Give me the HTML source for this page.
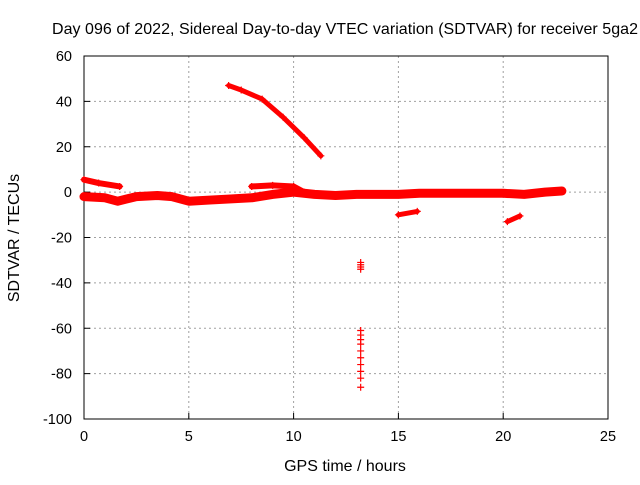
<!DOCTYPE html>
<html><head><meta charset="utf-8"><style>
body{margin:0;background:#fff}
svg text{font-family:"Liberation Sans",sans-serif;font-size:14.5px;fill:#000}
svg text.big{font-size:16px}
</style></head><body>
<svg width="640" height="480">
<g id="grid"></g>
<g id="axes"></g>
<g id="marks"></g>
<text class="big" x="345" y="34" text-anchor="middle" textLength="586">Day 096 of 2022, Sidereal Day-to-day VTEC variation (SDTVAR) for receiver 5ga2</text>
<text class="big" x="345" y="471" text-anchor="middle">GPS time / hours</text>
<text class="big" transform="translate(19,238) rotate(-90)" text-anchor="middle">SDTVAR / TECUs</text>
</svg>
<script>
const xTicks=[0,5,10,15,20,25];
const yTicks=[60,40,20,0,-20,-40,-60,-80,-100];
const mainT=[0,1,1.6,2.5,3.5,4.2,5,6,7,8,9,10,11,12,13,14,15,16,17,18,19,20,21,22,22.8];
const mainV=[-2,-2.5,-4,-2,-1.5,-2,-4,-3.5,-3,-2.5,-1,0,-1,-1.5,-1,-1,-1,-0.5,-0.5,-0.5,-0.5,-0.5,-1,0,0.5];
const upT=[0,0.7,1.7];const upV=[5.5,4,2.5];
const midT=[8,9,10,10.5];const midV=[2.5,3,2.5,0];
const highT=[6.9,7.5,8.5,9.5,10.5,11.3];const highV=[47,45,41,33,24,16];
const e1T=[15,15.9];const e1V=[-10,-8.5];
const e2T=[20.2,20.8];const e2V=[-13,-10.5];
const spikeT=[13.2,13.2,13.2,13.2,13.2,13.2,13.2,13.2,13.2,13.2,13.2,13.2,13.2,13.2];
const spikeV=[-31,-32,-33,-34,-61,-63,-65,-67,-70,-73,-76,-79,-82,-86];
const X0=84,X1=608,Y0=56,Y1=419;
const xs=t=>X0+(t-0)/25*(X1-X0);
const ys=v=>Y0+(60-v)/160*(Y1-Y0);
const NS="http://www.w3.org/2000/svg";
function mk(tag,attrs,parent){const e=document.createElementNS(NS,tag);for(const k in attrs)e.setAttribute(k,attrs[k]);parent.appendChild(e);return e;}
const grid=document.getElementById('grid'),axes=document.getElementById('axes'),marks=document.getElementById('marks');
xTicks.forEach(t=>{const x=xs(t);
 if(t>0&&t<25){const l=mk('line',{x1:x,x2:x,y1:Y0,y2:Y1,stroke:'#a0a0a0','stroke-dasharray':'2,3'},grid);
 
 }
 mk('line',{x1:x,x2:x,y1:Y1,y2:Y1-6,stroke:'#000'},axes);
 const tx=mk('text',{x:x,y:Y1+22,'text-anchor':'middle'},axes);tx.textContent=t;
 
 });
yTicks.forEach(v=>{const y=ys(v);
 if(v<60&&v>-100){const l=mk('line',{x1:X0,x2:X1,y1:y,y2:y,stroke:'#a0a0a0','stroke-dasharray':'2,3'},grid);
 
 }
 mk('line',{x1:X0,x2:X0+6,y1:y,y2:y,stroke:'#000'},axes);
 const tx=mk('text',{x:X0-12,y:y+5,'text-anchor':'end'},axes);tx.textContent=v;
 
 });
const fr=mk('rect',{x:X0,y:Y0,width:X1-X0,height:Y1-Y0,fill:'none',stroke:'#000'},axes);


function series(T,V,w,name){
 if(T.length>1&&T[0]!==T[1]){const p=mk('polyline',{points:T.map((t,i)=>xs(t)+','+ys(V[i])).join(' '),fill:'none',stroke:'#f00','stroke-width':w,'stroke-linejoin':'round','stroke-linecap':'round'},marks);
 
 }
 T.forEach((t,i)=>{const x=xs(t),y=ys(V[i]);
  const m=mk('path',{d:`M${x-3.5},${y}h7M${x},${y-3.5}v7`,stroke:'#f00','stroke-width':1.2},marks);
  
  });
}
series(mainT,mainV,9,'main-band');
series(upT,upV,6,'upper-start-branch');
series(midT,midV,6,'mid-branch');
series(highT,highV,5,'high-branch');
series(e1T,e1V,5,'offset-segment-15h');
series(e2T,e2V,5,'offset-segment-20h');
series(spikeT,spikeV,1,'spike-13h');
</script>
</body></html>
